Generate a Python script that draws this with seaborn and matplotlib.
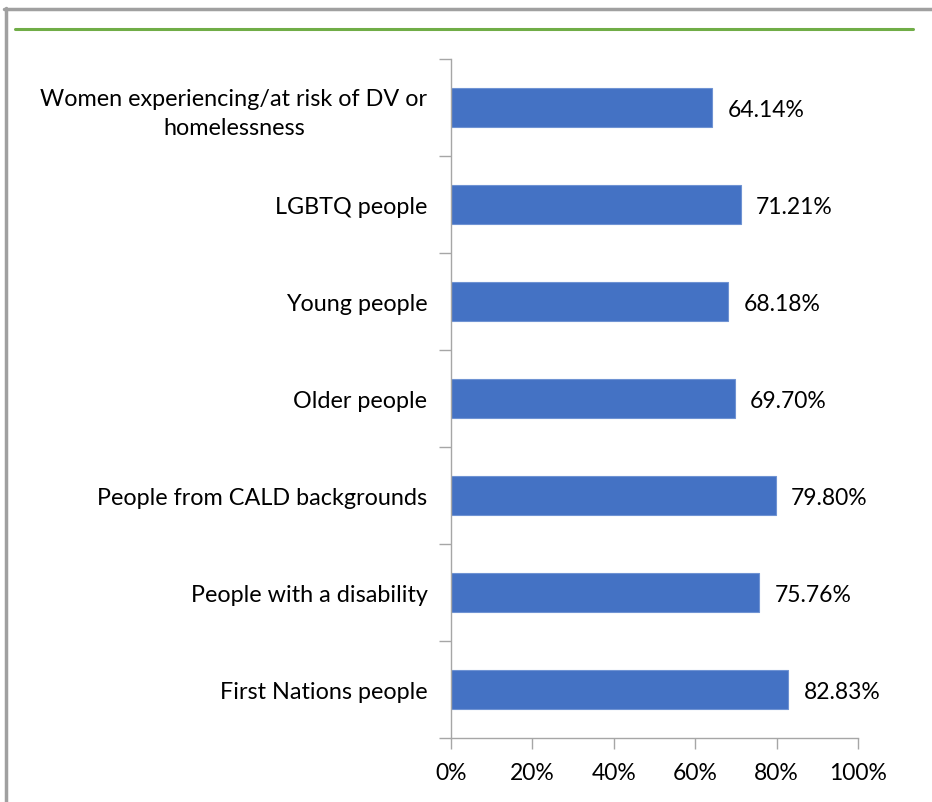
import matplotlib
matplotlib.use("Agg")
import matplotlib.pyplot as plt
from matplotlib.lines import Line2D
from matplotlib.ticker import FuncFormatter
import seaborn as sns
import pandas as pd

categories = [
    "Women experiencing/at risk of DV or\nhomelessness",
    "LGBTQ people",
    "Young people",
    "Older people",
    "People from CALD backgrounds",
    "People with a disability",
    "First Nations people",
]
shares = [64.14, 71.21, 68.18, 69.70, 79.80, 75.76, 82.83]
x_ticks = [0, 20, 40, 60, 80, 100]

df = pd.DataFrame({"group": categories, "share": shares})

sns.set_theme(style="white")
plt.rcParams["font.family"] = ["Lato", "DejaVu Sans"]

W, H = 932, 803
fig = plt.figure(figsize=(W / 100, H / 100), dpi=100)
ax = fig.add_axes([451 / W, 1 - 739 / H, (858 - 451) / W, (739 - 60) / H])

sns.barplot(data=df, x="share", y="group", orient="h", color="#4472C4",
            width=0.4, saturation=1, ax=ax, edgecolor="#6F93D3", linewidth=0.8)

ax.set_xlim(0, 100)
ax.set_ylim(len(categories) - 0.5, -0.5)
ax.set_xticks(x_ticks)
ax.xaxis.set_major_formatter(FuncFormatter(lambda v, p: f"{v:.0f}%"))
ax.set_yticks(range(len(categories)))
ax.set_yticklabels(categories, fontsize=16.8, color="#000000", linespacing=1.45)
for lbl in ax.get_yticklabels():
    lbl.set_multialignment("center")
ax.set_yticks([i - 0.5 for i in range(len(categories) + 1)], minor=True)
ax.tick_params(axis="y", which="major", length=0, pad=17)
ax.tick_params(axis="y", which="minor", length=9, width=1, color="#A6A6A6", left=True)
ax.tick_params(axis="x", which="major", length=8, width=1, color="#A6A6A6",
               bottom=True, labelsize=16.5, labelcolor="#000000", pad=9)
ax.set_xlabel("")
ax.set_ylabel("")

for side in ["top", "right"]:
    ax.spines[side].set_visible(False)
for side in ["left", "bottom"]:
    ax.spines[side].set_color("#A6A6A6")
    ax.spines[side].set_linewidth(1)

for i, v in enumerate(shares):
    ax.annotate(f"{v:.2f}%", xy=(v, i), xytext=(11, -1.5), textcoords="offset points",
                ha="left", va="center", fontsize=16.5, color="#000000")

# frame lines and the green rule at the top
fig.add_artist(Line2D([6 / W, 6 / W], [0, 1 - 9 / H], transform=fig.transFigure,
                      color="#A0A0A0", linewidth=2.5))
fig.add_artist(Line2D([4 / W, 1], [1 - 10 / H, 1 - 10 / H], transform=fig.transFigure,
                      color="#A0A0A0", linewidth=2.5))
fig.add_artist(Line2D([15 / W, 913 / W], [1 - 30 / H, 1 - 30 / H], transform=fig.transFigure,
                      color="#70AD47", linewidth=2.2))

fig.savefig("out.png", dpi=100)
